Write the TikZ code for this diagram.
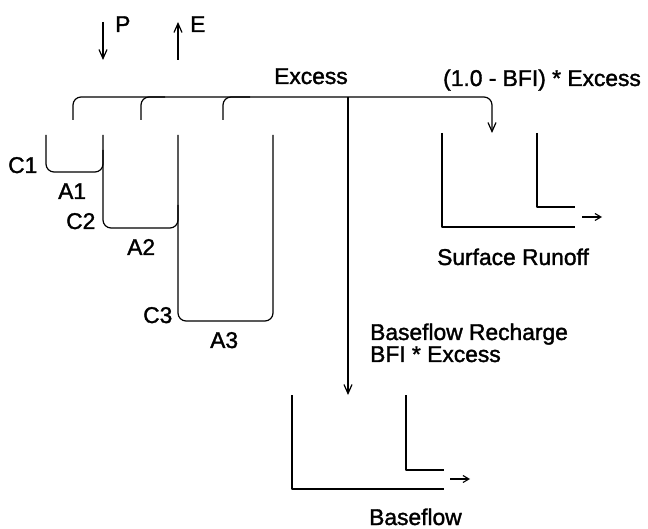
\documentclass[tikz,border=0pt]{standalone}
\usepackage{fontspec}
\setmainfont[FakeBold=1.5]{Liberation Sans}
\usetikzlibrary{arrows.meta}
\begin{document}
\begin{tikzpicture}[x=1pt,y=-1pt,
  wire/.style={line width=1.2pt,line join=round},
  flow/.style={wire,-{Straight Barb[length=9pt,width=8pt,line width=1.2pt]}},
  small/.style={wire,-{Straight Barb[length=6pt,width=7pt,line width=1.1pt]}},
  bucket/.style={wire,rounded corners=8pt},
  lbl/.style={anchor=base west,inner sep=0pt,font=\fontsize{22.8}{25}\selectfont}]
\useasboundingbox (0,0) rectangle (648,529);
% labels
\node[lbl] (P) at (115,32) {P};
\node[lbl] (E) at (190,32) {E};
\node[lbl] (ex) at (274,84) {Excess};
\node[lbl] (sre) at (443,86) {(1.0 - BFI) * Excess};
\node[lbl] (C1) at (8,173) {C1};
\node[lbl] (A1) at (58,199) {A1};
\node[lbl] (C2) at (66,229) {C2};
\node[lbl] (A2) at (127,255) {A2};
\node[lbl] (C3) at (143,323) {C3};
\node[lbl] (A3) at (210,348) {A3};
\node[lbl] (sr) at (437,265) {Surface Runoff};
\node[lbl] (bfr) at (370,340) {Baseflow Recharge};
\node[lbl] (bfe) at (370,362) {BFI * Excess};
\node[lbl] (bf) at (369,525) {Baseflow};
% P and E
\coordinate (p0) at (103,22); \coordinate (p1) at (103,60);
\coordinate (e0) at (178,60); \coordinate (e1) at (178,22);
\draw[flow] (p0) -- (p1);
\draw[flow] (e0) -- (e1);
% distribution line
\coordinate (b1) at (73,120); \coordinate (b2) at (141,120); \coordinate (b3) at (223,120);
\coordinate (srin) at (492,133);
\draw[flow,rounded corners=8pt] (b1) |- (srin |- 0,97) -- (srin);
\draw[bucket] (b2) |- (165,97);
\draw[bucket] (b3) |- (250,97);
\coordinate (rc0) at (348,97); \coordinate (rc1) at (348,395);
\draw[flow] (rc0) -- (rc1);
% soil stores
\draw[bucket] (46,135) -- (46,172) -- (103,172) -- (103,150);
\draw[bucket] (103,135) -- (103,228) -- (178,228) -- (178,205);
\draw[bucket] (178,135) -- (178,321) -- (273,321) -- (273,135);
% surface runoff store
\draw[wire] (442,133) -- (442,227) -- (575,227);
\draw[wire] (537,133) -- (537,207) -- (575,207);
\coordinate (so0) at (582,217); \coordinate (so1) at (602,217);
\draw[small] (so0) -- (so1);
% baseflow store
\draw[wire] (292,395) -- (292,489) -- (444,489);
\draw[wire] (406,395) -- (406,470) -- (444,470);
\coordinate (bo0) at (450,479); \coordinate (bo1) at (470,479);
\draw[small] (bo0) -- (bo1);
\end{tikzpicture}
\end{document}
